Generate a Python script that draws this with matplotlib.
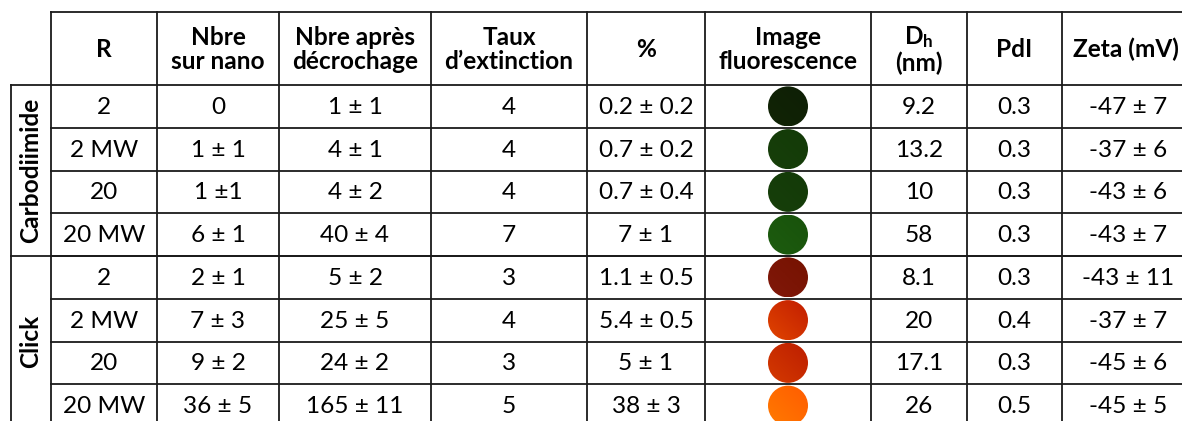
import numpy as np
import matplotlib.pyplot as plt
from matplotlib.patches import Circle
from matplotlib.colors import LinearSegmentedColormap

plt.rcParams['font.family'] = ['Lato', 'DejaVu Sans']
plt.rcParams['mathtext.fontset'] = 'custom'
plt.rcParams['mathtext.rm'] = 'Lato'
plt.rcParams['mathtext.bf'] = 'Lato:bold'

headers = ['R', 'Nbre\nsur nano', 'Nbre après\ndécrochage', 'Taux\nd\u2019extinction', '%',
           'Image\nfluorescence', '$\\mathbf{D_h}$\n(nm)', 'PdI', 'Zeta (mV)']
groups = ['Carbodiimide', 'Click']
group_size = [4, 4]
r_labels = ['2', '2 MW', '20', '20 MW', '2', '2 MW', '20', '20 MW']
nbre_nano = ['0', '1 ± 1', '1 ±1', '6 ± 1', '2 ± 1', '7 ± 3', '9 ± 2', '36 ± 5']
nbre_apres = ['1 ± 1', '4 ± 1', '4 ± 2', '40 ± 4', '5 ± 2', '25 ± 5', '24 ± 2', '165 ± 11']
taux = ['4', '4', '4', '7', '3', '4', '3', '5']
pct = ['0.2 ± 0.2', '0.7 ± 0.2', '0.7 ± 0.4', '7 ± 1', '1.1 ± 0.5', '5.4 ± 0.5', '5 ± 1', '38 ± 3']
# fluorescence spot colours (lower-left, upper-right)
fluo_colors = [('#112406', '#0e1f05'), ('#173f0a', '#133a08'), ('#173f0a', '#133a08'),
               ('#1d5c0f', '#18520b'), ('#80180a', '#761200'), ('#e04400', '#c21e00'),
               ('#d43a00', '#bd1e00'), ('#ff7a00', '#ff5c00')]
dh = ['9.2', '13.2', '10', '58', '8.1', '20', '17.1', '26']
pdi = ['0.3', '0.3', '0.3', '0.3', '0.3', '0.4', '0.3', '0.5']
zeta = ['-47 ± 7', '-37 ± 6', '-43 ± 6', '-43 ± 7', '-43 ± 11', '-37 ± 7', '-45 ± 6', '-45 ± 5']

# layout in pixels
W, H = 1182, 421
col_edges = [51, 157, 279, 431, 587, 705, 871, 967, 1062, 1194]
grp_left = 11
top, head_bot = 12, 85
row_h = 42.75
fs = 17.6
lw = 1.3
lc = '#1a1a1a'
rad = 20

fig = plt.figure(figsize=(W / 100, H / 100), dpi=100)
ax = fig.add_axes([0, 0, 1, 1])
ax.set_xlim(0, W)
ax.set_ylim(H, 0)
ax.axis('off')

n_rows = len(r_labels)
row_edges = [head_bot + i * row_h for i in range(n_rows + 1)]
bottom = row_edges[-1]

# header text
for j, h in enumerate(headers):
    xc = (col_edges[j] + col_edges[j + 1]) / 2
    if j == len(headers) - 1:
        xc -= 2
    ax.text(xc, (top + head_bot) / 2 + 1, h, ha='center', va='center',
            fontsize=fs, fontweight='bold', linespacing=1.1)

# diagonal gradient used for the spots
g = np.linspace(0, 1, 64)
grad = (g[None, :] + g[::-1, None]) / 2

# body
columns = [r_labels, nbre_nano, nbre_apres, taux, pct, None, dh, pdi, zeta]
for i in range(n_rows):
    yc = (row_edges[i] + row_edges[i + 1]) / 2
    for j, col in enumerate(columns):
        xc = (col_edges[j] + col_edges[j + 1]) / 2
        if col is None:
            cmap = LinearSegmentedColormap.from_list('spot', list(fluo_colors[i]))
            im = ax.imshow(grad, cmap=cmap, extent=[xc - rad, xc + rad, yc - rad, yc + rad],
                           origin='lower', interpolation='bilinear', zorder=2)
            clip = Circle((xc, yc), rad, transform=ax.transData, fc='none', lw=0)
            ax.add_patch(clip)
            im.set_clip_path(clip)
        else:
            ax.text(xc, yc + 1, col[i], ha='center', va='center', fontsize=fs)

ax.set_xlim(0, W)
ax.set_ylim(H, 0)
ax.set_aspect('auto')

# group labels
start = 0
for gname, n in zip(groups, group_size):
    y0, y1 = row_edges[start], row_edges[start + n]
    ax.text((grp_left + col_edges[0]) / 2, (y0 + y1) / 2, gname, rotation=90,
            ha='center', va='center', fontsize=fs, fontweight='bold')
    ax.plot([grp_left, col_edges[-1]], [y0, y0], color=lc, lw=lw)
    start += n

# grid lines
ax.plot([col_edges[0], col_edges[-1]], [top, top], color=lc, lw=lw)
for y in row_edges[1:]:
    ax.plot([col_edges[0], col_edges[-1]], [y, y], color=lc, lw=lw)
ax.plot([grp_left, col_edges[-1]], [bottom, bottom], color=lc, lw=lw)
for x in col_edges:
    ax.plot([x, x], [top, bottom], color=lc, lw=lw)
ax.plot([grp_left, grp_left], [head_bot, bottom], color=lc, lw=lw)

fig.savefig('out.png', dpi=100)
